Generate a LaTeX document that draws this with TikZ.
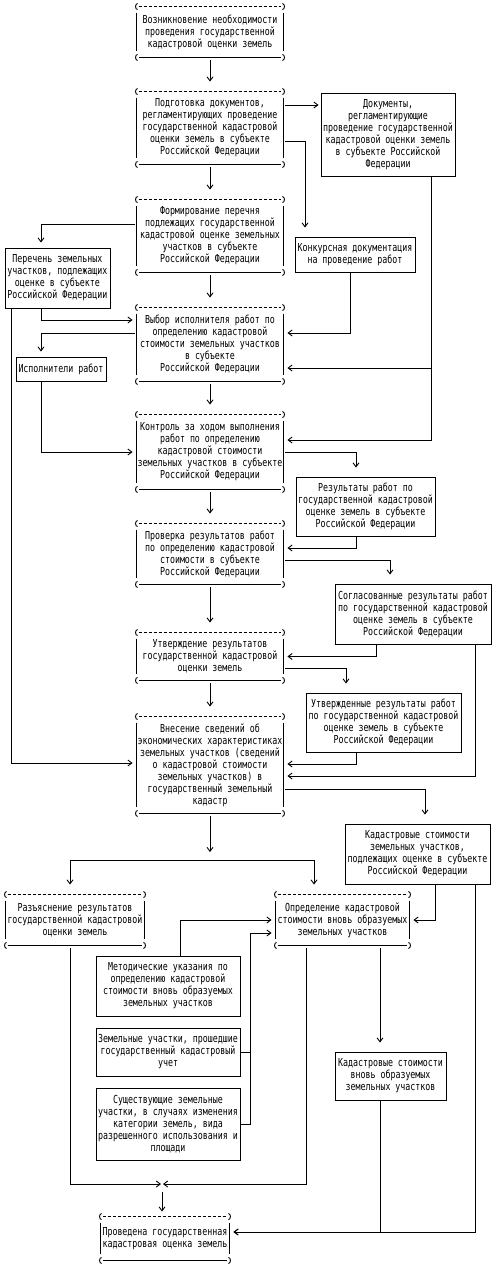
\documentclass[tikz,border=0pt]{standalone}
\usepackage{fontspec}
\newfontfamily\boxfont[FakeStretch=0.755]{DejaVu Sans Mono}
\usepackage{tikz}
\usetikzlibrary{
    positioning,
    arrows.meta
}

\begin{document}
\begin{tikzpicture}[
    x=1pt, y=-1pt,
    line width=0.9pt,
    proc/.style={
        align=center,
        inner sep=0pt,
        minimum width=150pt,
        font=\boxfont\fontsize{11}{12}\selectfont
    },
    box/.style={
        rectangle,
        draw,
        align=center,
        inner sep=0pt,
        font=\boxfont\fontsize{11}{12}\selectfont
    },
    arrow/.style={-{Straight Barb[length=4pt,width=6pt]}, shorten >=2pt},
    varrow/.style={arrow, shorten >=7pt}
]

\useasboundingbox (0,0) rectangle (499,1268);

\node[proc, minimum height=56pt] (start) at (210,32) {Возникновение необходимости\\проведения государственной\\кадастровой оценки земель};
\node[proc, minimum height=78pt] (prep) at (210,128) {Подготовка документов,\\регламентирующих проведение\\государственной кадастровой\\оценки земель в субъекте\\Российской Федерации};
\node[proc, minimum height=78pt] (form) at (210,236) {Формирование перечня\\подлежащих государственной\\кадастровой оценке земельных\\участков в субъекте\\Российской Федерации};
\node[proc, minimum height=79pt] (choose) at (210,344.5) {Выбор исполнителя работ по\\определению кадастровой\\стоимости земельных участков\\в субъекте\\Российской Федерации};
\node[proc, minimum height=80pt] (ctrl) at (210,452) {Контроль за ходом выполнения\\работ по определению\\кадастровой стоимости\\земельных участков в субъекте\\Российской Федерации};
\node[proc, minimum height=66pt] (check) at (210,554) {Проверка результатов работ\\по определению кадастровой\\стоимости в субъекте\\Российской Федерации};
\node[proc, minimum height=53pt] (approve) at (210,656.5) {Утверждение результатов\\государственной кадастровой\\оценки земель};
\node[proc, minimum height=102pt] (enter) at (210,765) {Внесение сведений об\\экономических характеристиках\\земельных участков (сведений\\о кадастровой стоимости\\земельных участков) в\\государственный земельный\\кадастр};
\node[proc, minimum width=142pt, minimum height=56pt] (explain) at (75,920) {Разъяснение результатов\\государственной кадастровой\\оценки земель};
\node[proc, minimum width=137pt, minimum height=56pt] (define) at (342.5,920) {Определение кадастровой\\стоимости вновь образуемых\\земельных участков};
\node[proc, minimum width=132pt, minimum height=49pt] (done) at (165,1238.5) {Проведена государственная\\кадастровая оценка земель};

\node[box, minimum width=134pt, minimum height=83pt] (docs) at (388,134.5) {Документы,\\регламентирующие\\проведение государственной\\кадастровой оценки земель\\в субъекте Российской\\Федерации};
\node[box, minimum width=105pt, minimum height=60pt] (list) at (57.5,278) {Перечень земельных\\участков, подлежащих\\оценке в субъекте\\Российской Федерации};
\node[box, minimum width=120pt, minimum height=35pt] (tender) at (355,254.5) {Конкурсная документация\\на проведение работ};
\node[box, minimum width=90pt, minimum height=24pt] (execs) at (61,369) {Исполнители работ};
\node[box, minimum width=139pt, minimum height=59pt] (results) at (365.5,506.5) {Результаты работ по\\государственной кадастровой\\оценке земель в субъекте\\Российской Федерации};
\node[box, minimum width=156pt, minimum height=60pt] (agreed) at (413,614) {Согласованные результаты работ\\по государственной кадастровой\\оценке земель в субъекте\\Российской Федерации};
\node[box, minimum width=155pt, minimum height=59pt] (approved) at (383.5,722.5) {Утвержденные результаты работ\\по государственной кадастровой\\оценке земель в субъекте\\Российской Федерации};
\node[box, minimum width=145pt, minimum height=60pt] (cost) at (417.5,854) {Кадастровые стоимости\\земельных участков,\\подлежащих оценке в субъекте\\Российской Федерации};
\node[box, minimum width=144pt, minimum height=60pt] (method) at (168,986) {Методические указания по\\определению кадастровой\\стоимости вновь образуемых\\земельных участков};
\node[box, minimum width=144pt, minimum height=48pt] (parcels) at (168,1052) {Земельные участки, прошедшие\\государственный кадастровый\\учет};
\node[box, minimum width=144pt, minimum height=72pt] (existing) at (168,1124) {Существующие земельные\\участки, в случаях изменения\\категории земель, вида\\разрешенного использования и\\площади};
\node[box, minimum width=111pt, minimum height=48pt] (newcost) at (390.5,1076) {Кадастровые стоимости\\вновь образуемых\\земельных участков};

\foreach \n in {start,prep,form,choose,ctrl,check,approve,enter,explain,define,done}{
    \draw[dash pattern=on 3pt off 2pt] ([xshift=4pt,yshift=-3pt]\n.north west) -- ([xshift=-4pt,yshift=-3pt]\n.north east);
    \draw ([xshift=4pt,yshift=3pt]\n.south west) -- ([xshift=-4pt,yshift=3pt]\n.south east);
    \draw ([xshift=3pt]\n.north west) arc[start angle=90, end angle=270, x radius=2pt, y radius=3pt];
    \draw ([xshift=-3pt]\n.north east) arc[start angle=90, end angle=-90, x radius=2pt, y radius=3pt];
    \draw ([xshift=3pt,yshift=6pt]\n.south west) arc[start angle=90, end angle=270, x radius=2pt, y radius=3pt];
    \draw ([xshift=-3pt,yshift=6pt]\n.south east) arc[start angle=90, end angle=-90, x radius=2pt, y radius=3pt];
    \draw ([xshift=2pt,yshift=-9pt]\n.north west) -- ([xshift=2pt,yshift=9pt]\n.south west);
    \draw ([xshift=-2pt,yshift=-9pt]\n.north east) -- ([xshift=-2pt,yshift=9pt]\n.south east);
}

\draw[varrow] (start) -- (prep);
\draw[varrow] (prep) -- (form);
\draw[varrow] (form) -- (choose);
\draw[varrow] (choose) -- (ctrl);
\draw[varrow] (ctrl) -- (check);
\draw[varrow] (check) -- (approve);
\draw[varrow] (approve) -- (enter);

\draw[arrow] ([yshift=23pt]prep.east) -- ([yshift=23pt]prep.east -| docs.west);
\draw[arrow, shorten >=9pt] ([yshift=-13pt]prep.east) -| ([xshift=-50pt]tender.north);
\draw[arrow, shorten >=5pt] ([yshift=12pt]form.west) -| ([xshift=-16.5pt]list.north);
\draw[arrow] ([xshift=-16.5pt]list.south) |- ([yshift=24.5pt]choose.west);
\draw[arrow] ([xshift=-5pt]tender.south) |- ([yshift=11.5pt]choose.east);
\draw[arrow] ([xshift=43pt]docs.south) |- ([yshift=-23.5pt]choose.east);
\draw[arrow] ([xshift=43pt]docs.south) |- ([yshift=12pt]ctrl.east);
\draw[arrow, shorten >=5pt] ([yshift=11.5pt]choose.west) -| ([xshift=-20pt]execs.north);
\draw[arrow] ([xshift=-20pt]execs.south) |- (ctrl.west);
\draw[arrow] ([xshift=-46.5pt]list.south) |- ([yshift=2pt]enter.west);
\draw[arrow, shorten >=9pt] (ctrl.east) -| ([xshift=-9.5pt]results.north);
\draw[arrow] ([xshift=-9.5pt]results.south) |- ([yshift=6pt]check.east);
\draw[arrow, shorten >=9pt] ([yshift=-6pt]check.east) -| ([xshift=-23pt]agreed.north);
\draw[arrow] ([xshift=-37pt]agreed.south) |- (approve.east);
\draw[arrow] ([xshift=62pt]agreed.south) |- ([yshift=-11pt]enter.east);
\draw[arrow, shorten >=9pt] ([yshift=-11.5pt]approve.east) -| ([xshift=-37.5pt]approved.north);
\draw[arrow] ([xshift=-27.5pt]approved.south) |- ([yshift=1pt]enter.east);
\draw[arrow, shorten >=9pt] ([yshift=-24pt]enter.east) -| ([xshift=7.5pt]cost.north);

\coordinate (split) at (210,860);
\draw[arrow, shorten >=8pt] (enter.south) -- (split);
\draw[varrow] (split) -| ([xshift=-5pt]explain.north);
\draw[varrow] (split) -| ([xshift=-28.5pt]define.north);

\draw[arrow] ([xshift=17.5pt]cost.south) |- (define.east);
\draw[arrow] ([xshift=57.5pt]cost.south) |- ([yshift=6.5pt]done.east);
\draw[arrow] ([xshift=12pt]method.north) |- (define.west);

\coordinate (bus) at (250,933);
\draw (parcels.east) -| (bus);
\draw (existing.east) -| (bus);
\draw[arrow] (bus) -- (bus -| define.west);

\coordinate (merge) at (162,1184);
\draw[arrow, shorten >=1pt] ([xshift=-5pt]explain.south) |- (merge);
\draw[arrow, shorten >=1pt] ([xshift=-36.5pt]define.south) |- (merge);
\draw[arrow, shorten <=8pt] (merge) -- (merge |- done.north);

\draw[arrow, shorten >=9pt] ([xshift=37.5pt]define.south) -- ([xshift=-10.5pt]newcost.north);
\draw[arrow] ([xshift=-10.5pt]newcost.south) |- ([yshift=6.5pt]done.east);

\end{tikzpicture}
\end{document}
